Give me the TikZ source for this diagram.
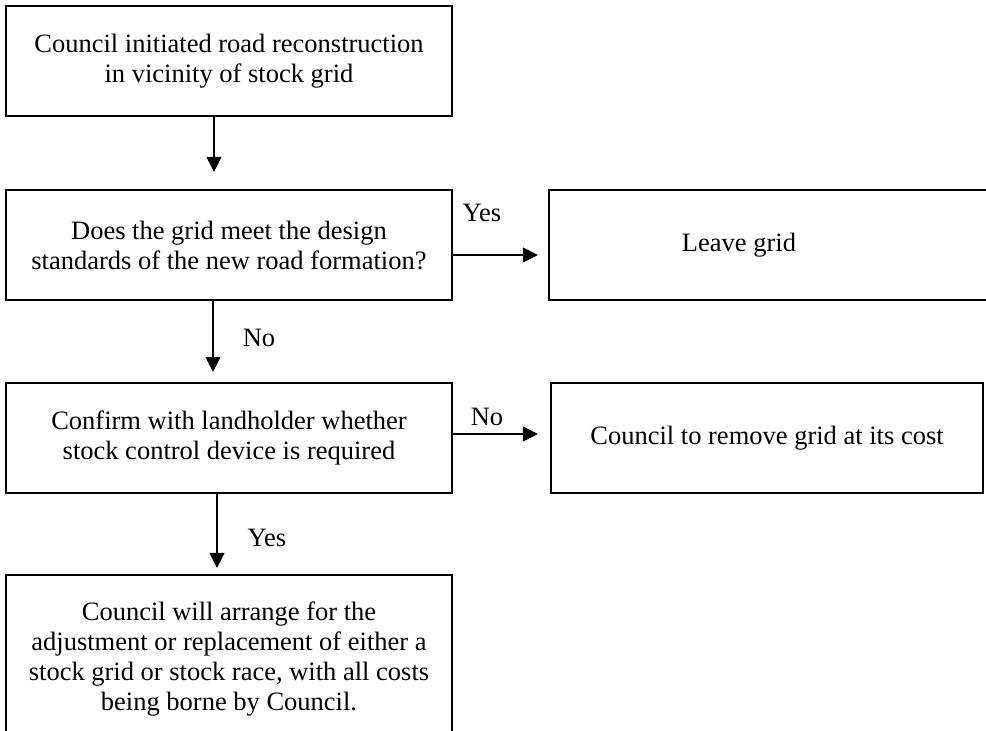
\documentclass[tikz,border=0pt]{standalone}
\usepackage{fontspec}
\setmainfont{Liberation Serif}
\usetikzlibrary{arrows.meta}
\begin{document}
\begin{tikzpicture}[x=1pt,y=-1pt,
  txt/.style={font=\fontsize{26.5}{30}\selectfont},
  box/.style={txt, draw, line width=2.2pt, minimum width=446pt, minimum height=110pt, align=center, inner sep=0pt},
  arrow/.style={line width=1.2pt, -{Triangle[length=15pt,width=15pt]}},
  lbl/.style={txt, inner sep=0pt}]
\useasboundingbox (0,0) rectangle (986,731);
\clip (0,0) rectangle (986,731);
\fill[white] (0,0) rectangle (986,731);
\node[box] (start) at (229,61) {Council initiated road reconstruction\\in vicinity of stock grid};
\node[box] (q1) at (229,245) {Does the grid meet the design\\standards of the new road formation?};
\node[box, minimum width=452pt, label={[lbl, xshift=-36pt]center:Leave grid}] (leave) at (775,245) {};
\node[box] (q2) at (229,438) {Confirm with landholder whether\\stock control device is required};
\node[box, minimum width=432pt] (remove) at (767,438) {Council to remove grid at its cost};
\node[box, minimum height=168pt] (final) at (229,659) {Council will arrange for the\\adjustment or replacement of either a\\stock grid or stock race, with all costs\\being borne by Council.};
\draw[arrow, shorten >=17pt] ([xshift=-15pt]start.south) -- ([xshift=-15pt]q1.north);
\draw[arrow, shorten >=10pt] ([xshift=-16pt]q1.south) -- ([xshift=-16pt]q2.north);
\draw[arrow, shorten >=6pt] ([xshift=-12pt]q2.south) -- ([xshift=-12pt]final.north);
\draw[arrow, shorten >=10pt] ([yshift=-10pt]q1.east) -- ([yshift=-10pt]q1.east -| leave.west);
\draw[arrow, shorten >=12pt] ([yshift=4pt]q2.east) -- ([yshift=4pt]q2.east -| remove.west);
\node[lbl] (yes1) at (482,213) {Yes};
\node[lbl] (no1) at (259,338) {No};
\node[lbl] (no2) at (487,417) {No};
\node[lbl] (yes2) at (267,538) {Yes};
\end{tikzpicture}
\end{document}
